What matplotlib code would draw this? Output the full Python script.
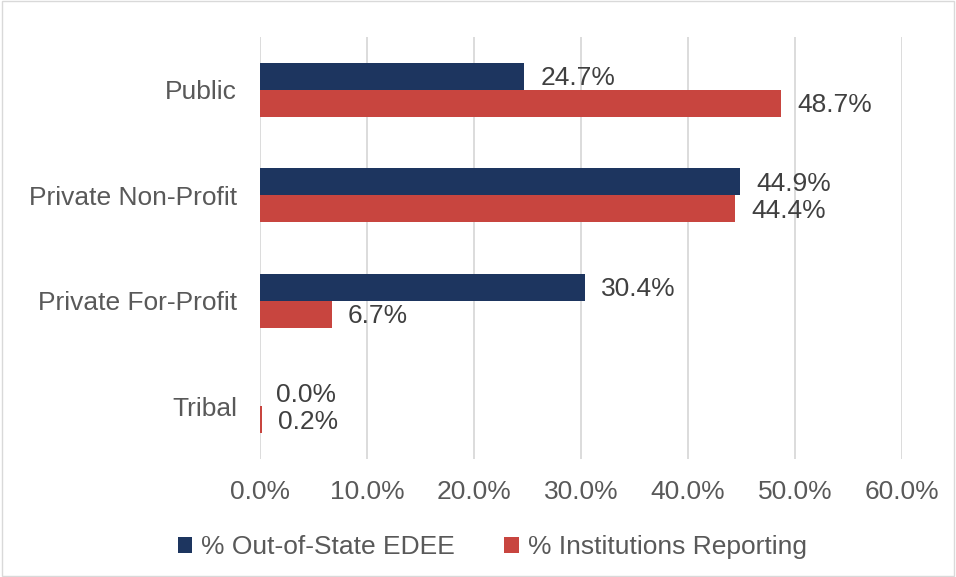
import matplotlib.pyplot as plt
import numpy as np
from matplotlib.patches import Rectangle

# Data
categories = ['Public', 'Private Non-Profit', 'Private For-Profit', 'Tribal']
out_of_state = [24.7, 44.9, 30.4, 0.0]
institutions = [48.7, 44.4, 6.7, 0.2]
series_names = ['% Out-of-State EDEE', '% Institutions Reporting']

blue = '#1D355F'
red = '#C8453F'
text_color = '#595959'
label_color = '#404040'

plt.rcParams['font.family'] = ['Liberation Sans', 'DejaVu Sans']

fig = plt.figure(figsize=(9.56, 5.77), dpi=100)
ax = fig.add_axes([0.272, 0.2045, 0.6715, 0.7315])

y = np.arange(len(categories))
h = 0.255
ax.barh(y - h / 2, out_of_state, height=h, color=blue, label=series_names[0], zorder=3)
ax.barh(y + h / 2, institutions, height=h, color=red, label=series_names[1], zorder=3)

# value labels
for i in range(len(categories)):
    ax.text(out_of_state[i] + 1.5, y[i] - h / 2 + 0.02, f'{out_of_state[i]:.1f}%',
            va='center', ha='left', fontsize=19, color=label_color)
    ax.text(institutions[i] + 1.5, y[i] + h / 2 + 0.02, f'{institutions[i]:.1f}%',
            va='center', ha='left', fontsize=19, color=label_color)

ax.set_xlim(0, 60)
ax.set_ylim(3.5, -0.5)
ax.set_xticks(np.arange(0, 61, 10))
ax.set_xticklabels([f'{v:.1f}%' for v in np.arange(0, 61, 10)])
ax.set_yticks(y)
ax.set_yticklabels(categories)
ax.tick_params(axis='both', length=0, labelsize=19, labelcolor=text_color)
ax.tick_params(axis='x', pad=15)
ax.tick_params(axis='y', pad=16.5)
ax.grid(axis='x', color='#D9D9D9', linewidth=1.3, zorder=0)
for s in ax.spines.values():
    s.set_visible(False)

leg = fig.legend(loc='center', bbox_to_anchor=(0.515, 0.052), ncol=2, frameon=False,
                 fontsize=19, handlelength=0.55, handleheight=0.55, handletextpad=0.35,
                 columnspacing=1.85)
for t in leg.get_texts():
    t.set_color(text_color)

# light border around the whole chart
fig.patches.append(Rectangle((0.002, 0.002), 0.996, 0.996, transform=fig.transFigure,
                             fill=False, edgecolor='#D9D9D9', linewidth=1))

fig.savefig('out.png', dpi=100)
